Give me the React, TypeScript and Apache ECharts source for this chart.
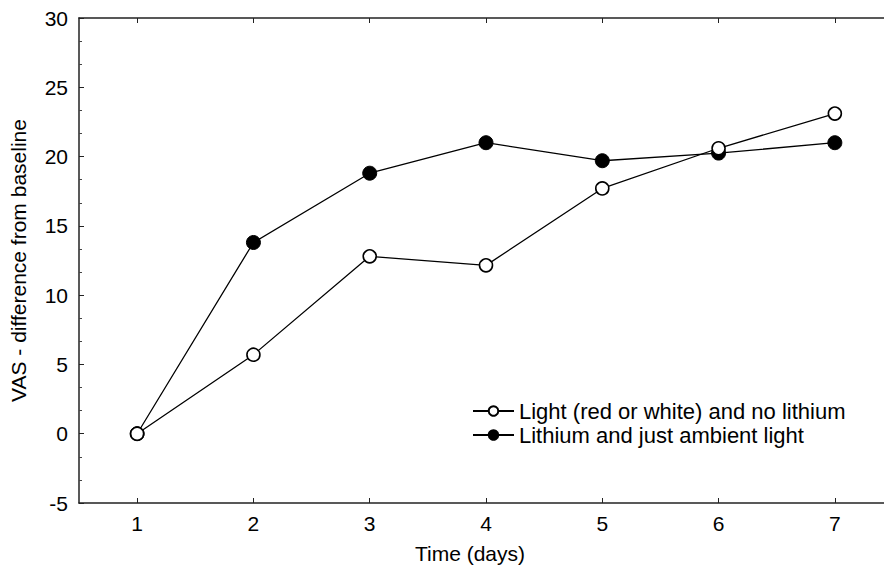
import React, { useEffect, useRef } from "react";
import * as echarts from "echarts";

const days = ["1", "2", "3", "4", "5", "6", "7"];
const lightNoLithium = [0, 5.7, 12.8, 12.15, 17.7, 20.6, 23.1];
const lithiumAmbient = [0, 13.8, 18.8, 21.0, 19.7, 20.25, 21.0];
const seriesNames = ["Light (red or white) and no lithium", "Lithium and just ambient light"];
const yMin = -5;
const yMax = 30;
const yStep = 5;

const FONT = "'Liberation Sans', Arial, Helvetica, sans-serif";

export default function App() {
  const ref = useRef<HTMLDivElement>(null);
  useEffect(() => {
    if (!ref.current) return;
    const chart = echarts.init(ref.current, undefined, { renderer: "svg" });
    const axisLine = { show: true, onZero: false, lineStyle: { color: "#222", width: 1.5 } };
    chart.setOption({
      animation: false,
      backgroundColor: "#fff",
      textStyle: { fontFamily: FONT, color: "#000" },
      grid: { left: 79, top: 18, width: 814, height: 485, containLabel: false, outerBoundsMode: "none" },
      legend: {
        orient: "vertical",
        left: 467,
        top: 395,
        itemWidth: 41,
        itemHeight: 12,
        itemGap: 2,
        textStyle: { fontFamily: FONT, fontSize: 22, lineHeight: 22, color: "#000" },
        data: seriesNames,
      },
      xAxis: [
        {
          type: "category",
          data: days,
          boundaryGap: true,
          position: "bottom",
          name: "Time (days)",
          nameLocation: "middle",
          nameGap: 40,
          nameTextStyle: { fontFamily: FONT, fontSize: 21, color: "#000", padding: [0, 32, 0, 0] },
          axisLine,
          axisTick: { show: true, inside: true, alignWithLabel: true, length: 5, lineStyle: { color: "#222", width: 1 } },
          axisLabel: { fontFamily: FONT, fontSize: 21, color: "#000", margin: 10 },
          splitLine: { show: false },
        },
        {
          type: "category",
          data: days,
          boundaryGap: true,
          position: "top",
          axisLine,
          axisTick: { show: true, inside: true, alignWithLabel: true, length: 5, lineStyle: { color: "#222", width: 1 } },
          axisLabel: { show: false },
          splitLine: { show: false },
        },
      ],
      yAxis: [
        {
          type: "value",
          min: yMin,
          max: yMax,
          interval: yStep,
          name: "VAS - difference from baseline",
          nameLocation: "middle",
          nameGap: 50,
          nameTextStyle: { fontFamily: FONT, fontSize: 21, color: "#000" },
          axisLine,
          axisTick: { show: true, inside: true, length: 5, lineStyle: { color: "#222", width: 1 } },
          minorTick: { show: true, splitNumber: 3, length: 3, lineStyle: { color: "#444", width: 1 } },
          axisLabel: { fontFamily: FONT, fontSize: 21, color: "#000", margin: 11 },
          splitLine: { show: false },
          minorSplitLine: { show: false },
        },
      ],
      series: [
        {
          name: seriesNames[0],
          type: "line",
          data: lightNoLithium,
          symbol: "circle",
          symbolSize: 13,
          z: 3,
          lineStyle: { color: "#000", width: 1.3 },
          itemStyle: { color: "#fff", borderColor: "#000", borderWidth: 1.6 },
        },
        {
          name: seriesNames[1],
          type: "line",
          data: lithiumAmbient,
          symbol: "circle",
          symbolSize: 14,
          z: 2,
          lineStyle: { color: "#000", width: 1.3 },
          itemStyle: { color: "#000", borderColor: "#000", borderWidth: 1 },
        },
      ],
    });
    return () => chart.dispose();
  }, []);
  return (
    <div
      ref={ref}
      style={{ position: "fixed", left: 0, top: 0, width: 884, height: 571, background: "#fff" }}
    />
  );
}
